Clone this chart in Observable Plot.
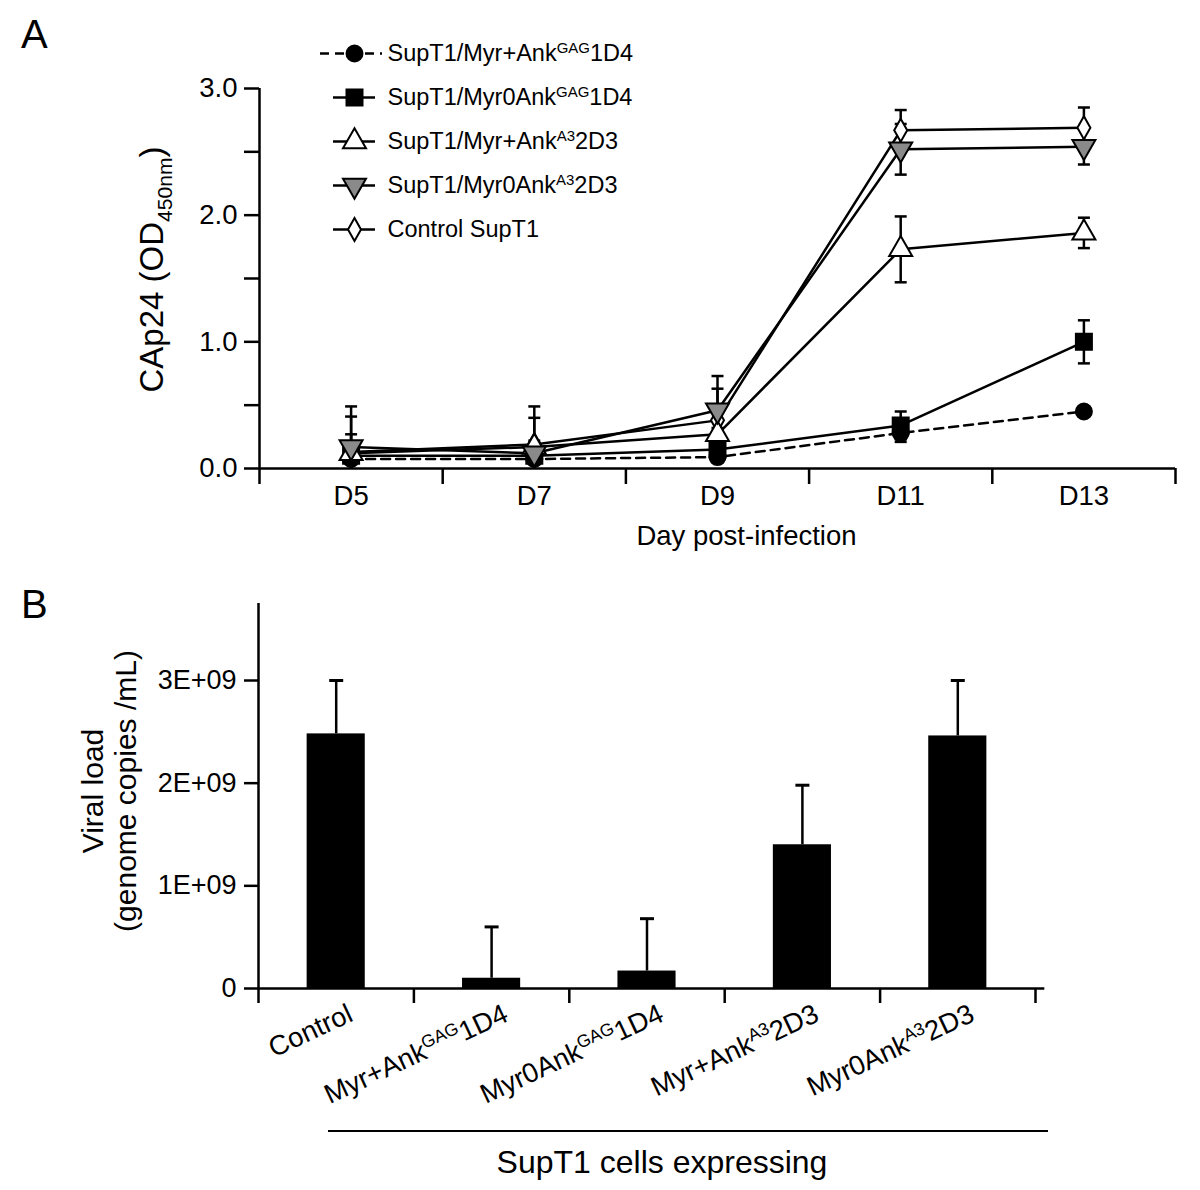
<!DOCTYPE html>
<html><head><meta charset="utf-8">
<script src="https://cdn.jsdelivr.net/npm/d3@7"></script>
<script src="https://cdn.jsdelivr.net/npm/@observablehq/plot@0.6"></script>
<style>
html,body{margin:0;padding:0;background:#fff;}
#page{position:relative;width:1200px;height:1190px;overflow:hidden;font-family:"Liberation Sans",Arial,sans-serif;color:#000;}
.abs{position:absolute;}
.panel-label{font-size:40px;line-height:1;}
</style></head><body><div id="page"></div>
<script>
// ---------- Panel A data ----------
const days = ["D5","D7","D9","D11","D13"];
const seriesNames = ["SupT1/Myr+Ank^GAG^1D4","SupT1/Myr0Ank^GAG^1D4","SupT1/Myr+Ank^A3^2D3","SupT1/Myr0Ank^A3^2D3","Control SupT1"];
const odMyrPlusGag = [0.075,0.075,0.09,0.28,0.45];
const errMyrPlusGag = [0,0,0,0.07,0];
const odMyr0Gag = [0.10,0.10,0.15,0.34,1.00];
const errMyr0Gag = [0,0,0,0.11,0.17];
const odMyrPlusA3 = [0.12,0.17,0.27,1.73,1.86];
const errMyrPlusA3 = [0.15,0.05,0.05,0.26,0.12];
const odMyr0A3 = [0.17,0.12,0.46,2.52,2.54];
const errMyr0A3 = [0.32,0.37,0.27,0.20,0.14];
const odControl = [0.13,0.19,0.38,2.67,2.69];
const errControl = [0.28,0.21,0.25,0.16,0.16];
const yTicksA = [0,0.5,1,1.5,2,2.5,3];
const yLabelA = "CAp24 (OD_450nm_)";
const xLabelA = "Day post-infection";

// ---------- Panel B data ----------
const categoriesB = ["Control","Myr+Ank^GAG^1D4","Myr0Ank^GAG^1D4","Myr+Ank^A3^2D3","Myr0Ank^A3^2D3"];
const viralLoad = [2.48e9,0.10e9,0.17e9,1.40e9,2.46e9];
const viralErr = [0.52e9,0.50e9,0.51e9,0.58e9,0.54e9];
const yTicksB = [0,1e9,2e9,3e9];
const yLabelB = "Viral load\n(genome copies /mL)";
const groupLabelB = "SupT1 cells expressing";

// ---------- symbols ----------
const symCircle = {draw(c){ c.moveTo(8,0); c.arc(0,0,8,0,2*Math.PI); c.closePath(); }};
const symSquare = {draw(c){ c.rect(-8,-8,16,16); }};
const symTriUp = {draw(c){ c.moveTo(0,-13.3); c.lineTo(11.5,6.7); c.lineTo(-11.5,6.7); c.closePath(); }};
const symTriDown = {draw(c){ c.moveTo(0,13.3); c.lineTo(11.5,-6.7); c.lineTo(-11.5,-6.7); c.closePath(); }};
const symDiamond = {draw(c){ c.moveTo(0,-11.5); c.lineTo(6.5,0); c.lineTo(0,11.5); c.lineTo(-6.5,0); c.closePath(); }};
const symCapA = {draw(c){ c.moveTo(-6,0); c.lineTo(6,0); }};
const symCapB = {draw(c){ c.moveTo(-7,0); c.lineTo(7,0); }};

const seriesValues = [odMyrPlusGag, odMyr0Gag, odMyrPlusA3, odMyr0A3, odControl];
const seriesErrors = [errMyrPlusGag, errMyr0Gag, errMyrPlusA3, errMyr0A3, errControl];
const seriesStyle = [
  {symbol: symCircle, fill: "#000", dash: "9,6"},
  {symbol: symSquare, fill: "#000", dash: null},
  {symbol: symTriUp, fill: "#fff", dash: null},
  {symbol: symTriDown, fill: "#8a8a8a", dash: null},
  {symbol: symDiamond, fill: "#fff", dash: null}
];
const drawOrder = [4, 0, 1, 2, 3];

const rowsA = seriesNames.flatMap((name, s) => days.map((d, i) => {
  const v = seriesValues[s][i], e = seriesErrors[s][i];
  return {s, name, i, v, e, lo: Math.max(0, v - e), hi: v + e};
}));
const errRowsA = rowsA.filter(r => r.e > 0);

const font = "'Liberation Sans', Arial, sans-serif";
const SW = 2.5;

// ---------- rich text (super/subscripts) ----------
function richify(svg, fs) {
  d3.select(svg).selectAll("text").each(function() {
    const el = this;
    if (el.querySelector("tspan")) return;
    const s = el.textContent;
    if (!/[\^_]/.test(s)) return;
    const parts = s.split(/(\^[^\^]*\^|_[^_]*_)/).filter(p => p);
    const size = parseFloat(el.closest("[font-size]")?.getAttribute("font-size")) || fs;
    el.textContent = "";
    let shift = 0;
    for (const p of parts) {
      const t = document.createElementNS("http://www.w3.org/2000/svg", "tspan");
      let target = 0, txt = p, small = false;
      if (p.startsWith("^")) { target = -0.36 * size; txt = p.slice(1, -1); small = true; }
      else if (p.startsWith("_")) { target = 0.26 * size; txt = p.slice(1, -1); small = true; }
      const dy = target - shift; shift = target;
      if (dy) t.setAttribute("dy", dy);
      if (small) t.setAttribute("font-size", (0.64 * size).toFixed(1));
      t.textContent = txt;
      el.appendChild(t);
    }
  });
}

const page = document.getElementById("page");
function place(node, left, top) {
  node.classList.add("abs");
  node.style.left = left + "px";
  node.style.top = top + "px";
  page.appendChild(node);
  return node;
}

// ---------- Panel A ----------
const plotA = Plot.plot({
  width: 1200, height: 560,
  marginLeft: 259, marginRight: 25, marginTop: 88, marginBottom: 92,
  style: {fontFamily: font, color: "#000", background: "transparent", overflow: "visible"},
  x: {type: "linear", domain: [-0.5, 4.5]},
  y: {domain: [0, 3]},
  marks: [
    Plot.axisY({ticks: yTicksA, tickSize: 15, tickPadding: 7, strokeWidth: SW, fontSize: 27.5,
      tickFormat: d => Number.isInteger(d) ? d.toFixed(1) : "", label: null}),
    Plot.axisX({ticks: d3.range(-0.5, 5, 1), tickSize: 16, strokeWidth: SW, tickFormat: () => "", label: null}),
    Plot.axisX({ticks: d3.range(0, 5), tickSize: 0, tickPadding: 17, fontSize: 27.5, tickFormat: i => days[i], label: null}),
    Plot.ruleX([-0.5], {y1: 0, y2: 3, strokeWidth: SW}),
    Plot.ruleY([0], {x1: -0.5, x2: 4.5, strokeWidth: SW}),
    Plot.text([xLabelA], {frameAnchor: "bottom", textAnchor: "middle", lineAnchor: "middle", dx: 29, dy: 68, fontSize: 27.5}),
    Plot.text([yLabelA], {frameAnchor: "left", textAnchor: "middle", lineAnchor: "middle", rotate: -90, dx: -107, dy: -9, fontSize: 33}),
    ...drawOrder.map(s => Plot.line(rowsA.filter(r => r.s === s), {x: "i", y: "v", stroke: "#000", strokeWidth: SW,
      strokeDasharray: seriesStyle[s].dash ?? undefined})),
    Plot.ruleX(errRowsA, {x: "i", y1: "lo", y2: "hi", strokeWidth: SW}),
    Plot.dot(errRowsA, {x: "i", y: "hi", symbol: symCapA, stroke: "#000", strokeWidth: SW, fill: "none"}),
    Plot.dot(errRowsA.filter(r => r.v - r.e > 0), {x: "i", y: "lo", symbol: symCapA, stroke: "#000", strokeWidth: SW, fill: "none"}),
    ...drawOrder.map(s => Plot.dot(rowsA.filter(r => r.s === s), {x: "i", y: "v", symbol: seriesStyle[s].symbol,
      fill: seriesStyle[s].fill, stroke: "#000", strokeWidth: 2}))
  ]
});
place(plotA, 0, 0);
richify(plotA, 33);

// ---------- Panel A legend ----------
const legendA = Plot.plot({
  width: 420, height: 230,
  marginLeft: 20, marginRight: 338, marginTop: 0, marginBottom: 0,
  style: {fontFamily: font, color: "#000", background: "transparent", overflow: "visible"},
  y: {type: "point", domain: seriesNames, range: [23, 199], padding: 0, axis: null},
  marks: [
    Plot.tickY([seriesNames[0]], {y: d => d, strokeDasharray: "9,6", strokeWidth: SW}),
    Plot.tickY(seriesNames.slice(1), {y: d => d, insetLeft: 13, insetRight: 7, strokeWidth: SW}),
    ...seriesNames.map((n, s) => Plot.dot([n], {y: d => d, frameAnchor: "middle", dx: 3,
      symbol: seriesStyle[s].symbol, fill: seriesStyle[s].fill, stroke: "#000", strokeWidth: 2})),
    Plot.text(seriesNames, {y: d => d, frameAnchor: "left", dx: 67, textAnchor: "start", fontSize: 23.5})
  ]
});
place(legendA, 300, 30);
richify(legendA, 23.5);

// ---------- Panel B ----------
const rowsB = categoriesB.map((label, i) => ({label, i, v: viralLoad[i], e: viralErr[i], hi: viralLoad[i] + viralErr[i]}));
const barHalf = 0.187;
const plotB = Plot.plot({
  width: 1200, height: 630,
  marginLeft: 258, marginRight: 165, marginTop: 43, marginBottom: 202,
  style: {fontFamily: font, color: "#000", background: "transparent", overflow: "visible"},
  x: {type: "linear", domain: [-0.5, 4.5]},
  y: {domain: [0, 3.75e9]},
  marks: [
    Plot.rect(rowsB, {x1: d => d.i - barHalf, x2: d => d.i + barHalf, y1: 0, y2: "v", fill: "#000"}),
    Plot.ruleX(rowsB, {x: "i", y1: "v", y2: "hi", strokeWidth: SW}),
    Plot.dot(rowsB, {x: "i", y: "hi", symbol: symCapB, stroke: "#000", strokeWidth: 3, fill: "none"}),
    Plot.axisY({ticks: yTicksB, tickSize: 14, tickPadding: 8, strokeWidth: SW, fontSize: 27,
      tickFormat: d => d === 0 ? "0" : `${d / 1e9}E+09`, label: null}),
    Plot.axisX({ticks: d3.range(-0.5, 5, 1), tickSize: 15, strokeWidth: SW, tickFormat: () => "", label: null}),
    Plot.ruleX([-0.5], {y1: 0, y2: 3.75e9, strokeWidth: SW}),
    Plot.ruleY([0], {x1: -0.5, x2: 4.56, strokeWidth: SW}),
    Plot.text(rowsB, {x: "i", y: 0, text: "label", rotate: -25, textAnchor: "end", lineAnchor: "top",
      dx: 10, dy: 14, fontSize: 27.5}),
    Plot.text([yLabelB], {frameAnchor: "left", textAnchor: "middle", lineAnchor: "middle", rotate: -90,
      dx: -150, dy: -5, fontSize: 30, lineHeight: 1.1})
  ]
});
place(plotB, 0, 560);
richify(plotB, 27.5);

// ---------- panel labels and group annotation ----------
const labA = document.createElement("div"); labA.className = "panel-label"; labA.textContent = "A"; place(labA, 21, 14);
const labB = document.createElement("div"); labB.className = "panel-label"; labB.textContent = "B"; place(labB, 21, 584);
const bracket = document.createElement("div");
bracket.style.width = "720px"; bracket.style.borderTop = "2px solid #000";
place(bracket, 328, 1130);
const grp = document.createElement("div");
grp.textContent = groupLabelB;
grp.style.fontSize = "32px"; grp.style.width = "600px"; grp.style.textAlign = "center"; grp.style.lineHeight = "1";
place(grp, 362, 1146);
</script></body></html>
